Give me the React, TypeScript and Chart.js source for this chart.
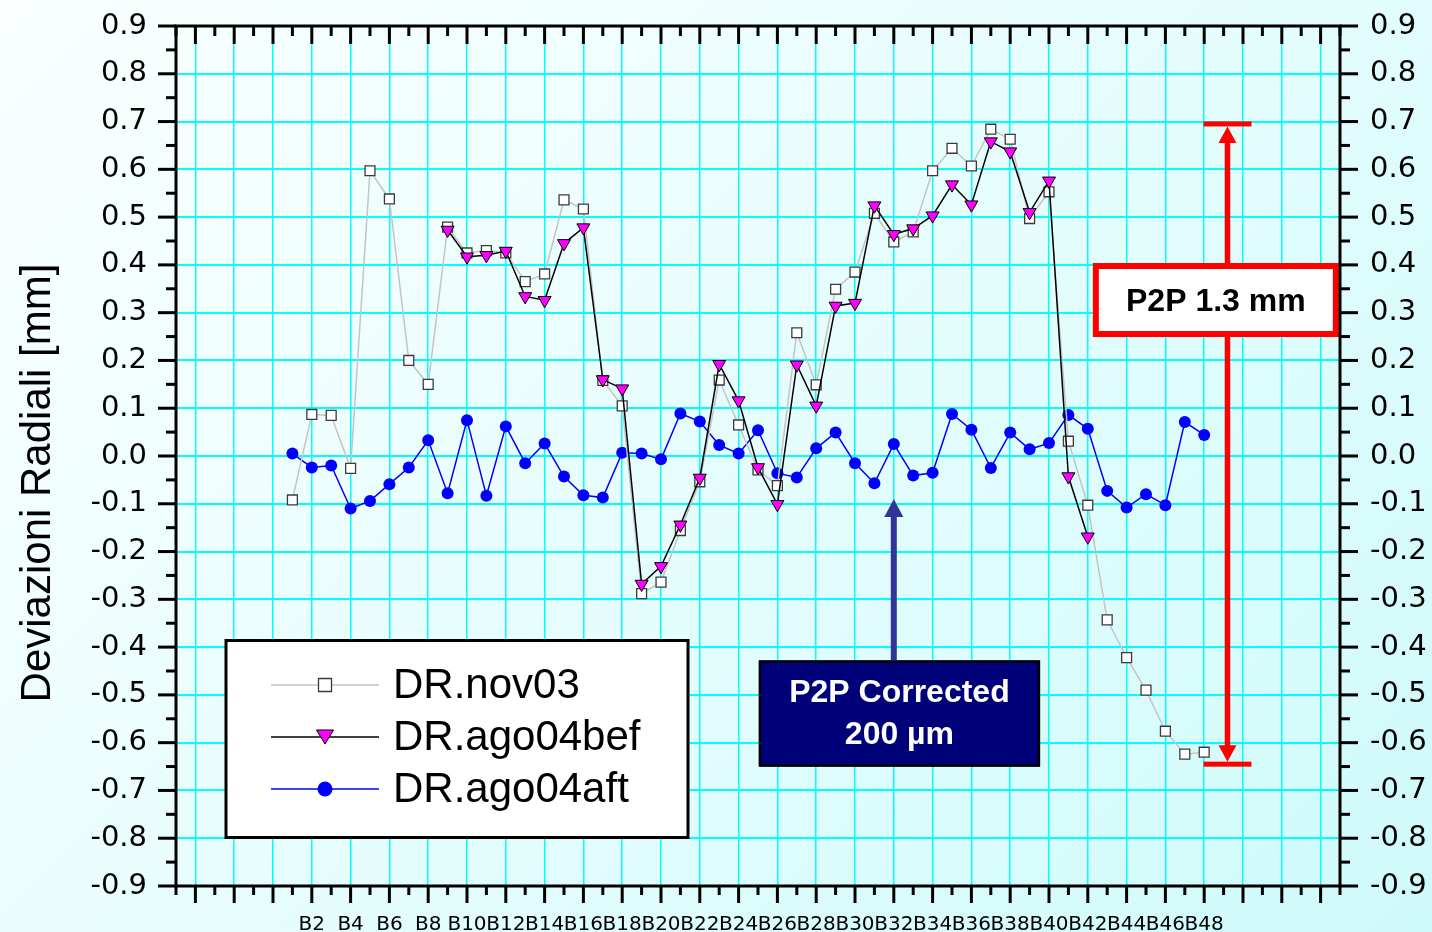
import React, { useEffect, useRef } from 'react';
import { Chart, registerables } from 'chart.js';

Chart.register(...registerables);

// Board index axis (B-5 .. B55); only even boards B2..B48 carry a label
const X_MIN = -5;
const X_MAX = 55;
const Y_MIN = -0.9;
const Y_MAX = 0.9;

const xTickLabels = [
  'B2', 'B4', 'B6', 'B8', 'B10', 'B12', 'B14', 'B16', 'B18', 'B20', 'B22', 'B24',
  'B26', 'B28', 'B30', 'B32', 'B34', 'B36', 'B38', 'B40', 'B42', 'B44', 'B46', 'B48',
];
const yTickValues = [
  -0.9, -0.8, -0.7, -0.6, -0.5, -0.4, -0.3, -0.2, -0.1, 0,
  0.1, 0.2, 0.3, 0.4, 0.5, 0.6, 0.7, 0.8, 0.9,
];

// Radial deviations [mm], one value per board starting at the given board
const nov03Start = 1;
const nov03 = [
  -0.092, 0.087, 0.085, -0.026, 0.597, 0.538, 0.200, 0.150, 0.479, 0.425,
  0.430, 0.425, 0.365, 0.381, 0.536, 0.517, 0.158, 0.105, -0.288, -0.264,
  -0.156, -0.054, 0.159, 0.065, -0.029, -0.062, 0.258, 0.149, 0.349, 0.385,
  0.508, 0.448, 0.469, 0.597, 0.644, 0.607, 0.684, 0.663, 0.497, 0.553,
  0.031, -0.103, -0.343, -0.422, -0.490, -0.576, -0.624, -0.620,
];

const ago04befStart = 9;
const ago04bef = [
  0.473, 0.417, 0.420, 0.429, 0.334, 0.326, 0.445, 0.478, 0.160, 0.141,
  -0.268, -0.231, -0.144, -0.046, 0.192, 0.116, -0.024, -0.101, 0.191, 0.105,
  0.314, 0.320, 0.524, 0.464, 0.476, 0.503, 0.568, 0.526, 0.658, 0.637,
  0.510, 0.576, -0.043, -0.169,
];

const ago04aftStart = 1;
const ago04aft = [
  0.005, -0.024, -0.020, -0.110, -0.094, -0.059, -0.024, 0.033, -0.078, 0.075,
  -0.083, 0.062, -0.015, 0.026, -0.043, -0.082, -0.087, 0.007, 0.005, -0.007,
  0.089, 0.072, 0.023, 0.005, 0.054, -0.036, -0.045, 0.016, 0.049, -0.015,
  -0.057, 0.025, -0.041, -0.035, 0.088, 0.055, -0.025, 0.049, 0.014, 0.027,
  0.086, 0.057, -0.073, -0.108, -0.080, -0.103, 0.071, 0.044,
];

// Callouts (anchored in data units)
const p2pSpan = { x: 49.2, top: 0.695, bottom: -0.645 };
const p2pBox = { x: 48.6, y: 0.3265, text: 'P2P 1.3 mm' };
const correctedArrow = { x: 32, tip: -0.09, tail: -0.427 };
const correctedBox = { x: 32.29, y: -0.539, lines: ['P2P Corrected', '200 µm'] };

const SANS = "'Liberation Sans', Arial, Helvetica, sans-serif";
const TICK_FONT = "'DejaVu Sans', sans-serif";

const toPoints = (start: number, values: number[]) =>
  values.map((v, i) => ({ x: start + i, y: v }));

type Style = {
  label: string;
  line: string;
  marker: 'rect' | 'triangle' | 'circle';
  fill: string;
  stroke: string;
  strokeWidth: number;
};

const seriesStyles: Style[] = [
  { label: 'DR.nov03', line: '#c4c4c4', marker: 'rect', fill: '#ffffff', stroke: '#3a3a3a', strokeWidth: 1.3 },
  { label: 'DR.ago04bef', line: '#000000', marker: 'triangle', fill: '#ff00ff', stroke: '#000000', strokeWidth: 1 },
  { label: 'DR.ago04aft', line: '#0000ff', marker: 'circle', fill: '#0000ff', stroke: '#0000ff', strokeWidth: 0 },
];

function drawMarker(ctx: CanvasRenderingContext2D, s: Style, cx: number, cy: number, scale: number) {
  ctx.save();
  ctx.fillStyle = s.fill;
  ctx.strokeStyle = s.stroke;
  ctx.lineWidth = s.strokeWidth;
  ctx.beginPath();
  if (s.marker === 'rect') {
    const h = 6.5 * scale;
    ctx.rect(cx - h, cy - h, 2 * h, 2 * h);
  } else if (s.marker === 'triangle') {
    const w = 8.5 * scale;
    const hh = 14 * scale;
    ctx.moveTo(cx - w, cy - hh / 2);
    ctx.lineTo(cx + w, cy - hh / 2);
    ctx.lineTo(cx, cy + hh / 2);
    ctx.closePath();
  } else {
    ctx.arc(cx, cy, 7.5 * scale, 0, Math.PI * 2);
  }
  ctx.fill();
  if (s.strokeWidth > 0) ctx.stroke();
  ctx.restore();
}

const overlayPlugin = {
  id: 'overlay',
  afterDatasetsDraw(chart: any) {
    const { ctx } = chart;
    const x = chart.scales.x;
    const y = chart.scales.y;
    ctx.save();

    // Peak-to-peak span of the uncorrected data
    const ax = x.getPixelForValue(p2pSpan.x);
    const yt = y.getPixelForValue(p2pSpan.top);
    const yb = y.getPixelForValue(p2pSpan.bottom);
    ctx.fillStyle = '#ff0000';
    ctx.fillRect(ax - 24, yt - 2.5, 48, 5);
    ctx.fillRect(ax - 24, yb - 2.5, 48, 5);
    ctx.fillRect(ax - 2.75, yt + 15, 5.5, yb - yt - 30);
    ctx.beginPath();
    ctx.moveTo(ax, yt + 2.5);
    ctx.lineTo(ax - 9, yt + 19);
    ctx.lineTo(ax + 9, yt + 19);
    ctx.closePath();
    ctx.moveTo(ax, yb - 2.5);
    ctx.lineTo(ax - 9, yb - 19);
    ctx.lineTo(ax + 9, yb - 19);
    ctx.closePath();
    ctx.fill();

    // P2P label box
    const bx = x.getPixelForValue(p2pBox.x);
    const by = y.getPixelForValue(p2pBox.y);
    const bw = 246;
    const bh = 74;
    ctx.fillStyle = '#ffffff';
    ctx.fillRect(bx - bw / 2, by - bh / 2, bw, bh);
    ctx.strokeStyle = '#ff0000';
    ctx.lineWidth = 6;
    ctx.strokeRect(bx - bw / 2 + 3, by - bh / 2 + 3, bw - 6, bh - 6);
    ctx.fillStyle = '#000000';
    ctx.font = `bold 32px ${SANS}`;
    ctx.textAlign = 'center';
    ctx.textBaseline = 'middle';
    ctx.fillText(p2pBox.text, bx, by + 2);

    // Arrow towards the corrected data
    const cx = x.getPixelForValue(correctedArrow.x);
    const ct = y.getPixelForValue(correctedArrow.tip);
    const cb = y.getPixelForValue(correctedArrow.tail);
    ctx.fillStyle = '#333399';
    ctx.fillRect(cx - 3, ct + 16, 6, cb - ct - 16);
    ctx.beginPath();
    ctx.moveTo(cx, ct);
    ctx.lineTo(cx - 9.5, ct + 18);
    ctx.lineTo(cx + 9.5, ct + 18);
    ctx.closePath();
    ctx.fill();

    // Corrected label box
    const nx = x.getPixelForValue(correctedBox.x);
    const ny = y.getPixelForValue(correctedBox.y);
    const nw = 281;
    const nh = 106;
    ctx.fillStyle = '#000078';
    ctx.fillRect(nx - nw / 2, ny - nh / 2, nw, nh);
    ctx.strokeStyle = '#000000';
    ctx.lineWidth = 2.5;
    ctx.strokeRect(nx - nw / 2 + 1, ny - nh / 2 + 1, nw - 2, nh - 2);
    ctx.fillStyle = '#ffffff';
    ctx.font = `bold 32px ${SANS}`;
    ctx.fillText(correctedBox.lines[0], nx, ny - 20);
    ctx.fillText(correctedBox.lines[1], nx, ny + 22);

    // Legend
    const lx = 226;
    const ly = 640.5;
    const lw = 462;
    const lh = 197;
    ctx.fillStyle = '#ffffff';
    ctx.fillRect(lx, ly, lw, lh);
    ctx.strokeStyle = '#000000';
    ctx.lineWidth = 3;
    ctx.strokeRect(lx, ly, lw, lh);
    ctx.font = `42px ${SANS}`;
    ctx.textAlign = 'left';
    ctx.textBaseline = 'middle';
    seriesStyles.forEach((s, i) => {
      const ry = 685 + i * 52;
      ctx.strokeStyle = s.line;
      ctx.lineWidth = 1.5;
      ctx.beginPath();
      ctx.moveTo(271, ry);
      ctx.lineTo(379, ry);
      ctx.stroke();
      drawMarker(ctx, s, 325, ry, 1);
      ctx.fillStyle = '#000000';
      ctx.fillText(s.label, 393, ry + 1);
    });

    ctx.restore();
  },
  afterDraw(chart: any) {
    const { ctx } = chart;
    const { left, right, top, bottom } = chart.chartArea;
    const x = chart.scales.x;
    const y = chart.scales.y;
    ctx.save();
    ctx.strokeStyle = '#000000';
    ctx.lineWidth = 3;
    ctx.lineCap = 'butt';
    const seg = (x1: number, y1: number, x2: number, y2: number) => {
      ctx.beginPath();
      ctx.moveTo(x1, y1);
      ctx.lineTo(x2, y2);
      ctx.stroke();
    };
    // board ticks: inward on top, outward on bottom
    for (let v = X_MIN; v <= X_MAX; v++) {
      const px = x.getPixelForValue(v);
      const major = Math.abs(v) % 2 === 0;
      seg(px, top, px, top + (major ? 18 : 10));
      seg(px, bottom, px, bottom + (major ? 17 : 9));
    }
    // value ticks: outward on both sides, minor every 0.05
    for (let k = -18; k <= 18; k++) {
      const py = y.getPixelForValue(k * 0.05);
      const major = Math.abs(k) % 2 === 0;
      const len = major ? 18 : 10;
      seg(left - len, py, left, py);
      seg(right, py, right + len, py);
    }
    ctx.strokeRect(left, top, right - left, bottom - top);

    // value axis title
    ctx.fillStyle = '#000000';
    ctx.font = `42px ${SANS}`;
    ctx.textAlign = 'center';
    ctx.textBaseline = 'alphabetic';
    ctx.translate(50, 483);
    ctx.rotate(-Math.PI / 2);
    ctx.fillText('Deviazioni Radiali [mm]', 0, 0);
    ctx.restore();
  },
};

export default function App() {
  const canvasRef = useRef<HTMLCanvasElement | null>(null);

  useEffect(() => {
    const canvas = canvasRef.current;
    if (!canvas) return;

    const evenBoards: number[] = [];
    for (let v = X_MIN + 1; v < X_MAX; v += 2) evenBoards.push(v);

    const [sNov, sBef, sAft] = seriesStyles;
    const valueTicks = {
      padding: 29,
      color: '#000000',
      font: { family: TICK_FONT, size: 29 },
      callback: (v: number) => Number(v).toFixed(1),
    };
    // keep the value axes from reserving extra room above/below the plot
    const fitValueAxis = (width: number) => (s: any) => {
      s.width = width;
      s.paddingTop = 0;
      s.paddingBottom = 0;
    };

    const chart = new Chart(canvas, {
      type: 'line',
      data: {
        datasets: [
          {
            label: sNov.label,
            data: toPoints(nov03Start, nov03),
            borderColor: sNov.line,
            borderWidth: 1.5,
            pointStyle: 'rect',
            pointRadius: 7,
            pointBackgroundColor: sNov.fill,
            pointBorderColor: sNov.stroke,
            pointBorderWidth: sNov.strokeWidth,
            order: 2,
          },
          {
            label: sBef.label,
            data: toPoints(ago04befStart, ago04bef),
            borderColor: sBef.line,
            borderWidth: 1.5,
            pointStyle: 'triangle',
            pointRotation: 180,
            pointRadius: 7.5,
            pointBackgroundColor: sBef.fill,
            pointBorderColor: sBef.stroke,
            pointBorderWidth: sBef.strokeWidth,
            order: 1,
          },
          {
            label: sAft.label,
            data: toPoints(ago04aftStart, ago04aft),
            borderColor: sAft.line,
            borderWidth: 1.5,
            pointStyle: 'circle',
            pointRadius: 6,
            pointBackgroundColor: sAft.fill,
            pointBorderColor: sAft.stroke,
            pointBorderWidth: 0,
            order: 3,
          },
        ],
      },
      options: {
        animation: false,
        responsive: false,
        maintainAspectRatio: false,
        devicePixelRatio: 1,
        layout: { padding: { top: 26, left: 0, right: 0, bottom: 0 } },
        plugins: {
          legend: { display: false },
          tooltip: { enabled: false },
        },
        scales: {
          x: {
            type: 'linear',
            position: 'bottom',
            min: X_MIN,
            max: X_MAX,
            afterBuildTicks: (s: any) => {
              s.ticks = evenBoards.map((v) => ({ value: v }));
            },
            afterFit: (s: any) => {
              s.height = 46;
              s.paddingLeft = 0;
              s.paddingRight = 0;
            },
            grid: { color: '#00ffff', lineWidth: 1.5, drawTicks: false },
            border: { display: false },
            ticks: {
              autoSkip: false,
              maxRotation: 0,
              minRotation: 0,
              padding: 27,
              color: '#000000',
              font: { family: TICK_FONT, size: 20 },
              callback: (v: number) => {
                const label = 'B' + v;
                return xTickLabels.includes(label) ? label : '';
              },
            },
          },
          y: {
            type: 'linear',
            position: 'left',
            min: Y_MIN,
            max: Y_MAX,
            afterBuildTicks: (s: any) => {
              s.ticks = yTickValues.map((v) => ({ value: v }));
            },
            afterFit: fitValueAxis(176),
            grid: { color: '#00ffff', lineWidth: 2, drawTicks: false },
            border: { display: false },
            ticks: valueTicks,
          },
          y2: {
            type: 'linear',
            position: 'right',
            min: Y_MIN,
            max: Y_MAX,
            afterBuildTicks: (s: any) => {
              s.ticks = yTickValues.map((v) => ({ value: v }));
            },
            afterFit: fitValueAxis(92),
            grid: { display: false, drawTicks: false },
            border: { display: false },
            ticks: { ...valueTicks, padding: 30 },
          },
        },
      },
      plugins: [overlayPlugin],
    } as any);

    return () => chart.destroy();
  }, []);

  return (
    <div
      style={{
        position: 'fixed',
        left: 0,
        top: 0,
        width: 1432,
        height: 932,
        background: 'linear-gradient(135deg, #fbffff 0%, #e6fdfd 50%, #cffafa 100%)',
      }}
    >
      <canvas ref={canvasRef} width={1432} height={932} style={{ display: 'block' }} />
    </div>
  );
}
